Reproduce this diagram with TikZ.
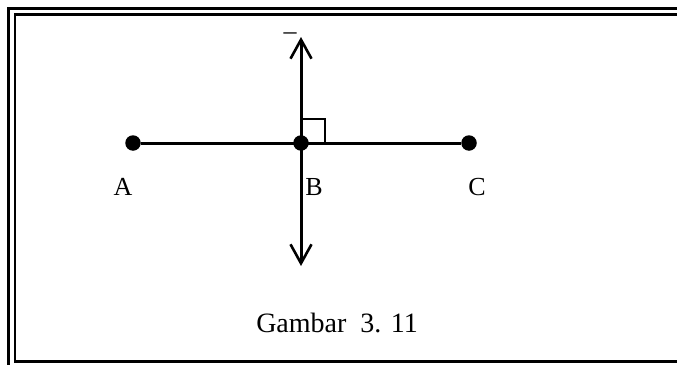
\documentclass[tikz,border=0pt]{standalone}
\usepackage{fontspec}
\setmainfont{Liberation Serif}
\usetikzlibrary{arrows.meta, positioning}

\begin{document}
\begin{tikzpicture}[
    x=1pt, y=-1pt,
    dot/.style={circle, fill=black, inner sep=0pt, minimum size=15.5pt},
    arrow/.style={line width=3pt, -{Straight Barb[length=19pt, width=21pt, line width=2.6pt]}},
    lbl/.style={anchor=base, font=\fontsize{26}{30}\selectfont},
    frame/.style={draw=black}
]
\useasboundingbox (0,0) rectangle (677,364);
% double frame, cut by the page on the right and below
\draw[frame, line width=3pt] (8,8) rectangle (700,380);
\draw[frame, line width=2.2pt] (15,14.5) rectangle (690,361.5);

\node[dot] (A) at (133,143) {};
\node[dot] (B) at (301,143) {};
\node[dot] (C) at (469,143) {};
\coordinate (up) at (301,37);
\coordinate (down) at (301,266);

\draw[line width=3pt] (A) -- (C);
\draw[arrow] (B.center) -- (up);
\draw[arrow] (B.center) -- (down);
\draw[line width=1.5pt] ([yshift=24pt]B.center) -| ([xshift=24pt]B.center);

\node[lbl] (bar) at (290,39.5) {\textendash};
\node[lbl] (labA) at (123,195) {A};
\node[lbl] (labB) at (314,195) {B};
\node[lbl] (labC) at (477,195) {C};
\node[font=\fontsize{28}{32}\selectfont] (caption) at (337,323) {Gambar\ \ 3. 11};
\end{tikzpicture}
\end{document}
